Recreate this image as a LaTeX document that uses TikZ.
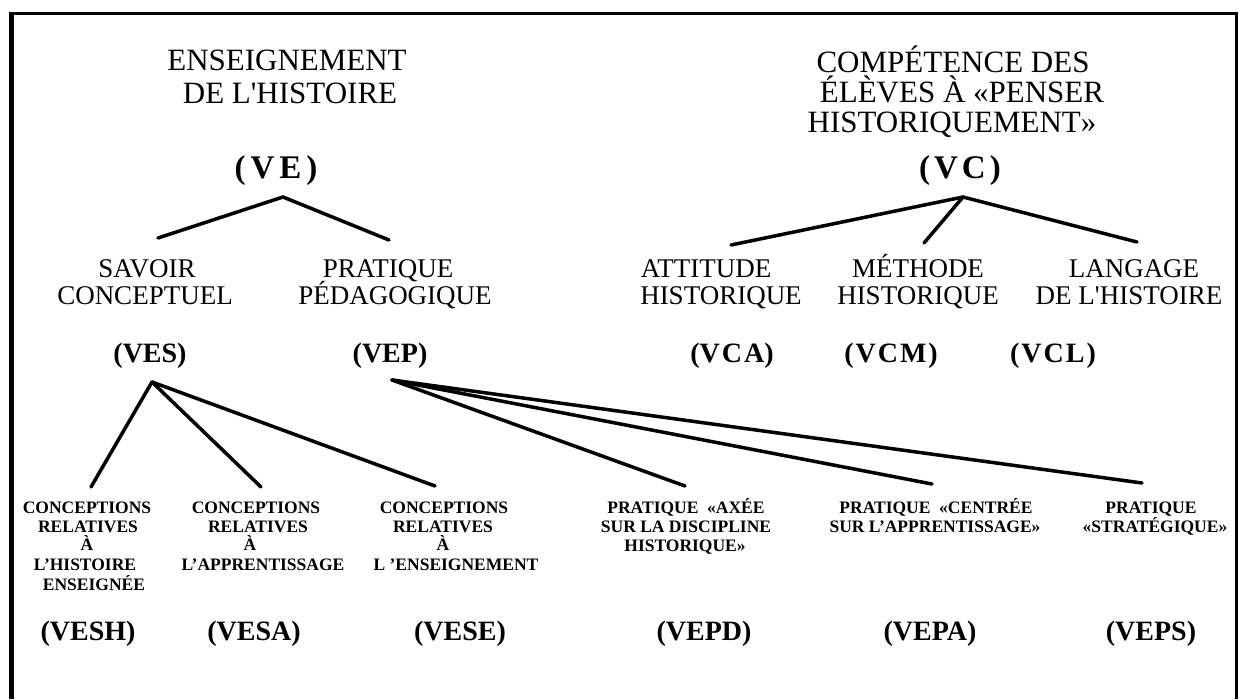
\documentclass[tikz,border=0pt]{standalone}
\usepackage{fontspec}
\setmainfont{Liberation Serif}
\begin{document}
\begin{tikzpicture}[x=1pt,y=-1pt,
  ttl/.style={font=\fontsize{31}{31}\selectfont, anchor=base, inner sep=0pt},
  mid/.style={font=\fontsize{27}{27}\selectfont, anchor=base, inner sep=0pt},
  code/.style={font=\fontsize{28}{28}\selectfont\bfseries, anchor=base, inner sep=0pt},
  bigcode/.style={font=\fontsize{33}{33}\selectfont\bfseries, anchor=base, inner sep=0pt},
  small/.style={font=\fontsize{17.5}{17.5}\selectfont\bfseries, anchor=base, inner sep=0pt},
  link/.style={line width=3.5pt, line cap=round},
  frameline/.style={line width=3pt}]
\useasboundingbox (0,0) rectangle (1239,699);
% frame
\draw[line width=5pt] (11,699) -- (11,11.5);
\draw[frameline] (8.5,13) -- (1236,13) -- (1236,699);

% left title
\node[ttl] (t1a) at (287,70) {ENSEIGNEMENT};
\node[ttl] (t1b) at (290,103) {DE L\textquotesingle HISTOIRE};
\node[bigcode] (ve) at (276,178) {(\kern5pt V\kern5pt E\kern5pt)};

% right title
\node[ttl] (t2a) at (953,72) {COMPÉTENCE DES};
\node[ttl] (t2b) at (962,102) {ÉLÈVES À «PENSER};
\node[ttl] (t2c) at (952,132) {HISTORIQUEMENT»};
\node[bigcode] (vc) at (960,178) {(\kern4pt V\kern4pt C\kern4pt)};

% level 2 labels
\node[mid] (sa1) at (147,277) {SAVOIR};
\node[mid] (sa2) at (145,304) {CONCEPTUEL};
\node[mid] (pr1) at (388,277) {PRATIQUE};
\node[mid] (pr2) at (395,304) {PÉDAGOGIQUE};
\node[mid] (at1) at (706,277) {ATTITUDE};
\node[mid] (at2) at (721,304) {HISTORIQUE};
\node[mid] (me1) at (918,277) {MÉTHODE};
\node[mid] (me2) at (918,304) {HISTORIQUE};
\node[mid] (la1) at (1134,277) {LANGAGE};
\node[mid] (la2) at (1129,304) {DE L\textquotesingle HISTOIRE};

% level 2 codes
\node[code] (ves) at (150,362) {(VES)};
\node[code] (vep) at (390,362) {(VEP)};
\node[code] (vca) at (732,362) {(V\kern2pt C\kern2pt A)};
\node[code] (vcm) at (891,362) {(\kern2pt V\kern2pt C\kern2pt M\kern2pt)};
\node[code] (vcl) at (1053,362) {(\kern2pt V\kern2pt C\kern2pt L\kern2pt)};

% level 3 labels
\node[small] (c1a) at (87,513) {CONCEPTIONS};
\node[small] (c1b) at (88,532) {RELATIVES};
\node[small] (c1c) at (87,550) {À};
\node[small] (c1d) at (85,570) {L’HISTOIRE};
\node[small] (c1e) at (94,590) {ENSEIGNÉE};

\node[small] (c2a) at (256,513) {CONCEPTIONS};
\node[small] (c2b) at (258,532) {RELATIVES};
\node[small] (c2c) at (250,550) {À};
\node[small] (c2d) at (263,570) {L’APPRENTISSAGE};

\node[small] (c3a) at (444,513) {CONCEPTIONS};
\node[small] (c3b) at (443,532) {RELATIVES};
\node[small] (c3c) at (443,550) {À};
\node[small] (c3d) at (456,570) {L ’ENSEIGNEMENT};

\node[small] (p1a) at (686,513) {PRATIQUE \ «AXÉE};
\node[small] (p1b) at (686,532) {SUR LA DISCIPLINE};
\node[small] (p1c) at (685,551) {HISTORIQUE»};

\node[small] (p2a) at (936,513) {PRATIQUE \ «CENTRÉE};
\node[small] (p2b) at (935,532) {SUR L’APPRENTISSAGE»};

\node[small] (p3a) at (1151,513) {PRATIQUE};
\node[small] (p3b) at (1155,532) {«STRATÉGIQUE»};

% level 3 codes
\node[code] (vesh) at (88,640) {(VESH)};
\node[code] (vesa) at (254,640) {(VESA)};
\node[code] (vese) at (460,640) {(VESE)};
\node[code] (vepd) at (704,640) {(VEPD)};
\node[code] (vepa) at (930,640) {(VEPA)};
\node[code] (veps) at (1151,640) {(VEPS)};

% connector points
\coordinate (veT) at (283,197);
\coordinate (veL) at (158,238);
\coordinate (veR) at (389,240);
\coordinate (vcT) at (963,197);
\coordinate (vcL) at (731,245);
\coordinate (vcM) at (924,243);
\coordinate (vcR) at (1137,242);
\coordinate (vesT) at (152,382);
\coordinate (vesA) at (91,487);
\coordinate (vesB) at (261,487);
\coordinate (vesC) at (435,486);
\coordinate (vepT) at (392,380);
\coordinate (vepA) at (685,486);
\coordinate (vepB) at (932,484);
\coordinate (vepC) at (1142,483);

\draw[link] (veL) -- (veT) -- (veR);
\draw[link] (vcT) -- (vcL);
\draw[link] (vcT) -- (vcM);
\draw[link] (vcT) -- (vcR);
\draw[link] (vesT) -- (vesA);
\draw[link] (vesT) -- (vesB);
\draw[link] (vesT) -- (vesC);
\draw[link] (vepT) -- (vepA);
\draw[link] (vepT) -- (vepB);
\draw[link] (vepT) -- (vepC);
\end{tikzpicture}
\end{document}
